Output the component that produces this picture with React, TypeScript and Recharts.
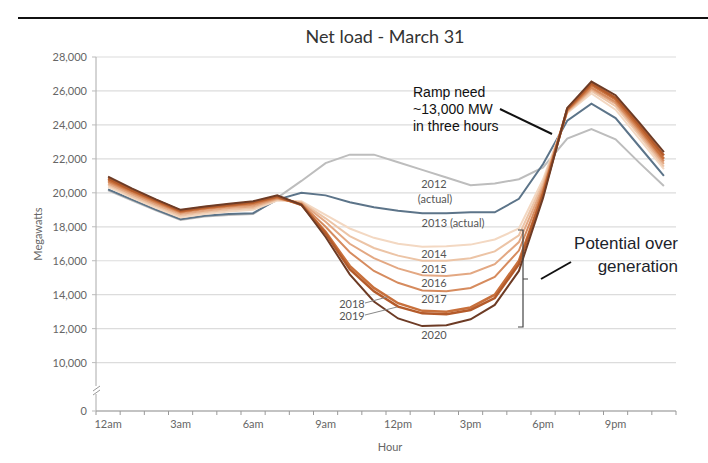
import { LineChart, Line, XAxis, YAxis, CartesianGrid } from 'recharts'

// hours 0..23 (12am .. 11pm)
const hours = [0, 1, 2, 3, 4, 5, 6, 7, 8, 9, 10, 11, 12, 13, 14, 15, 16, 17, 18, 19, 20, 21, 22, 23]
const hourLabels = ['12am', '3am', '6am', '9am', '12pm', '3pm', '6pm', '9pm']
const labelTicks = [0, 3, 6, 9, 12, 15, 18, 21]

// 7150 stands in for the broken-axis "0"
const yTicks = [7150, 10000, 12000, 14000, 16000, 18000, 20000, 22000, 24000, 26000, 28000]

const y2012 = [20150, 19550, 18950, 18400, 18600, 18700, 18750, 19700, 20700, 21750, 22250, 22250, 21800, 21350, 20900, 20450, 20550, 20800, 21500, 23200, 23750, 23150, 21750, 20400]
const y2013 = [20200, 19600, 19000, 18450, 18650, 18750, 18800, 19600, 20000, 19850, 19450, 19150, 18950, 18800, 18800, 18850, 18850, 19650, 21700, 24250, 25250, 24400, 22700, 21000]
const y2014 = [20350, 19700, 19100, 18550, 18750, 18900, 19000, 19550, 19500, 18700, 17900, 17350, 17000, 16820, 16850, 16950, 17250, 17900, 20800, 24700, 25850, 24900, 23150, 21400]
const y2015 = [20450, 19800, 19200, 18650, 18850, 19000, 19100, 19600, 19450, 18500, 17450, 16750, 16300, 16000, 16000, 16150, 16550, 17500, 20600, 24750, 26000, 25100, 23350, 21550]
const y2016 = [20550, 19900, 19300, 18750, 18950, 19100, 19200, 19650, 19400, 18300, 17000, 16150, 15550, 15150, 15100, 15250, 15800, 17100, 20400, 24800, 26100, 25250, 23500, 21700]
const y2017 = [20650, 20000, 19400, 18850, 19050, 19200, 19300, 19700, 19350, 18000, 16500, 15400, 14700, 14250, 14200, 14400, 15050, 16600, 20200, 24850, 26200, 25350, 23650, 21850]
const y2018 = [20750, 20100, 19500, 18900, 19100, 19250, 19400, 19750, 19300, 17700, 15700, 14400, 13500, 13050, 13000, 13250, 14000, 16000, 20000, 24900, 26350, 25500, 23800, 22000]
const y2019 = [20850, 20150, 19550, 18950, 19150, 19300, 19450, 19800, 19300, 17600, 15500, 14200, 13300, 12900, 12850, 13100, 13800, 15800, 19900, 24950, 26450, 25600, 23950, 22200]
const y2020 = [20950, 20250, 19600, 19000, 19200, 19350, 19500, 19850, 19300, 17400, 15200, 13600, 12600, 12150, 12200, 12550, 13400, 15400, 19700, 25000, 26550, 25750, 24100, 22400]

const data = hours.map((h, i) => ({
  h,
  y2012: y2012[i],
  y2013: y2013[i],
  y2014: y2014[i],
  y2015: y2015[i],
  y2016: y2016[i],
  y2017: y2017[i],
  y2018: y2018[i],
  y2019: y2019[i],
  y2020: y2020[i],
}))

const series = [
  { key: 'y2012', color: '#bdbdbd', width: 2 },
  { key: 'y2013', color: '#5c7489', width: 2 },
  { key: 'y2014', color: '#f3d8c2', width: 2 },
  { key: 'y2015', color: '#ecc4a6', width: 2 },
  { key: 'y2016', color: '#e3a883', width: 2 },
  { key: 'y2017', color: '#d68b5e', width: 2 },
  { key: 'y2018', color: '#c8703c', width: 2.5 },
  { key: 'y2019', color: '#b45b2b', width: 2.5 },
  { key: 'y2020', color: '#6d3b25', width: 2 },
]

const boundaryTicks = hours.map((h) => h - 0.5).concat(23.5)

const font = 'Lato, "Noto Sans", sans-serif'
const arial = '"Liberation Sans", Arial, sans-serif'
const tickStyle = { fill: '#666', fontSize: 11, fontFamily: font }

const yearLabels = [
  { t: '2012', x: 434, y: 183 },
  { t: '(actual)', x: 435, y: 198 },
  { t: '2013 (actual)', x: 453, y: 222 },
  { t: '2014', x: 434, y: 253 },
  { t: '2015', x: 434, y: 268 },
  { t: '2016', x: 434, y: 282 },
  { t: '2017', x: 434, y: 298 },
  { t: '2018', x: 352, y: 303 },
  { t: '2019', x: 352, y: 315 },
  { t: '2020', x: 434, y: 334 },
]

export default function App() {
  return (
    <div style={{ position: 'fixed', left: 0, top: 0, width: 708, height: 463, background: '#fff' }}>
      <LineChart width={708} height={463} data={data} margin={{ top: 57, right: 32, bottom: 0, left: 0 }}>
        <CartesianGrid xAxisId="a" horizontal vertical={false} stroke="#dcdcdc" strokeWidth={1.2} />
        <XAxis
          xAxisId="b"
          dataKey="h"
          type="number"
          domain={[-0.5, 23.5]}
          ticks={labelTicks}
          interval={0}
          tickFormatter={(v) => hourLabels[v / 3]}
          axisLine={false}
          tickLine={false}
          tickSize={0}
          tickMargin={4}
          height={47}
          tick={tickStyle}
          label={() => (
            <text x={390} y={451} textAnchor="middle" fill="#666" fontSize={11} fontFamily={font}>
              Hour
            </text>
          )}
        />
        <XAxis
          xAxisId="a"
          dataKey="h"
          type="number"
          domain={[-0.5, 23.5]}
          ticks={boundaryTicks}
          interval={0}
          tickFormatter={() => ''}
          tickSize={4}
          height={5}
          axisLine={{ stroke: '#999' }}
          tickLine={{ stroke: '#999' }}
        />
        <YAxis
          type="number"
          domain={[7150, 28000]}
          ticks={yTicks}
          interval={0}
          width={96}
          tickFormatter={(v) => (v < 9000 ? '0' : v.toLocaleString('en-US'))}
          tick={tickStyle}
          tickSize={4}
          tickMargin={5}
          axisLine={{ stroke: '#aaa' }}
          tickLine={{ stroke: '#bbb' }}
          label={(p: any) => {
            const vb = p.viewBox || { y: 57, height: 354 }
            const cy = vb.y + vb.height / 2
            return (
              <text x={37} y={cy} transform={`rotate(-90 37 ${cy})`} textAnchor="middle" dominantBaseline="central" fill="#666" fontSize={11} fontFamily={font}>
                Megawatts
              </text>
            )
          }}
        />
        {series.map((s) => (
          <Line
            key={s.key}
            xAxisId="a"
            dataKey={s.key}
            stroke={s.color}
            strokeWidth={s.width}
            dot={false}
            isAnimationActive={false}
          />
        ))}
      </LineChart>
      <svg width={708} height={463} style={{ position: 'absolute', left: 0, top: 0, pointerEvents: 'none' }}>
        <line x1={18} y1={18} x2={708} y2={18} stroke="#111" strokeWidth={2} />
        <text x={385} y={43} textAnchor="middle" fill="#333" fontSize={18} fontFamily={font}>
          Net load - March 31
        </text>
        {/* axis break */}
        <rect x={92} y={386} width={8} height={8} fill="#fff" />
        <line x1={93} y1={391} x2={100} y2={386} stroke="#999" strokeWidth={1} />
        <line x1={93} y1={395} x2={100} y2={390} stroke="#999" strokeWidth={1} />
        {yearLabels.map((l) => (
          <text key={l.t} x={l.x} y={l.y} textAnchor="middle" dominantBaseline="central" fill="#555" fontSize={11} fontFamily={font}>
            {l.t}
          </text>
        ))}
        <line x1={365} y1={303} x2={387} y2={297} stroke="#888" strokeWidth={1} />
        <line x1={365} y1={315} x2={397} y2={307} stroke="#888" strokeWidth={1} />
        <text fontSize={14} fontFamily={arial} fill="#111">
          <tspan x={413} y={97}>Ramp need</tspan>
          <tspan x={413} y={114}>~13,000 MW</tspan>
          <tspan x={413} y={131}>in three hours</tspan>
        </text>
        <line x1={500} y1={109} x2={552} y2={134} stroke="#111" strokeWidth={2} />
        <text fontSize={17} fontFamily={arial} fill="#1c232b" textAnchor="end">
          <tspan x={678} y={249}>Potential over</tspan>
          <tspan x={678} y={272}>generation</tspan>
        </text>
        <line x1={541} y1={279} x2={571} y2={262} stroke="#111" strokeWidth={2} />
        <path d="M518 230 H523 V327 H518 M523 279 H528" fill="none" stroke="#444" strokeWidth={1.2} />
      </svg>
    </div>
  )
}
